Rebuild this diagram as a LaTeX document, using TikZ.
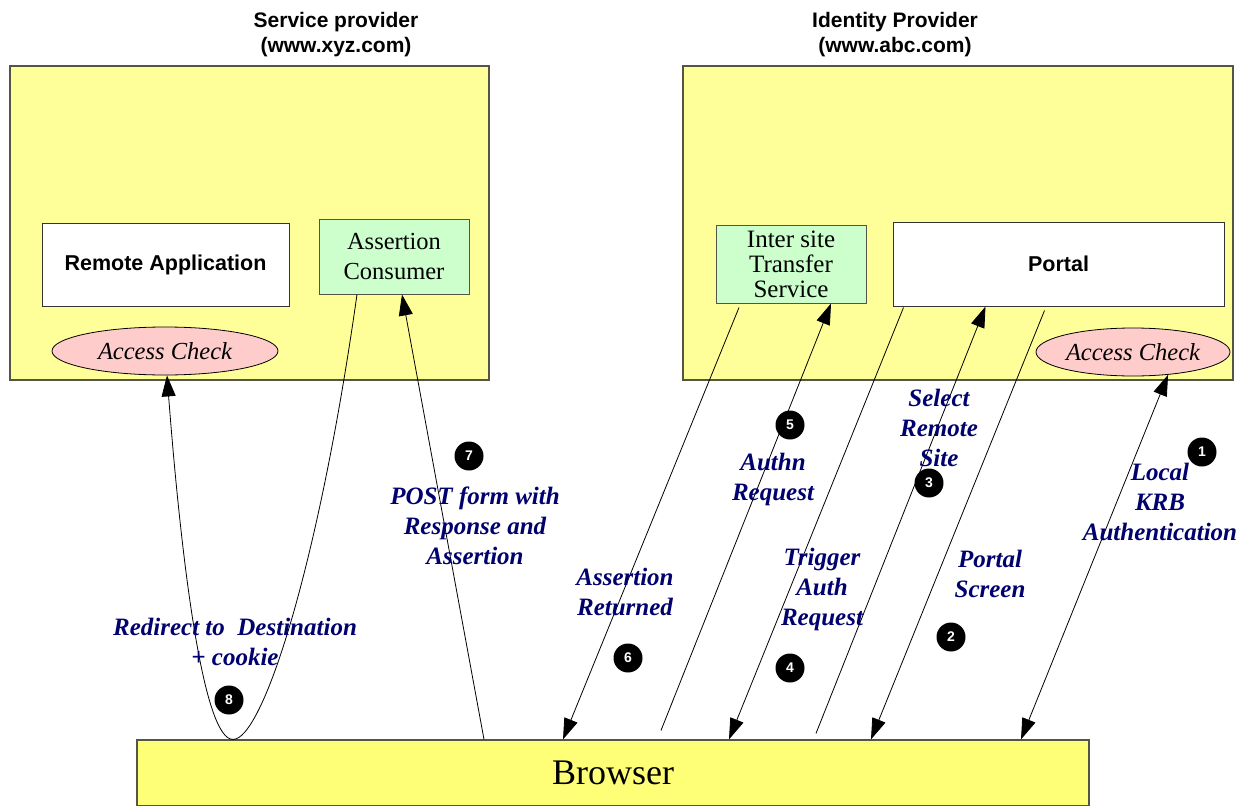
\documentclass[tikz,border=0pt]{standalone}
\usepackage{fontspec}
\setmainfont{Liberation Serif}
\setsansfont{Liberation Sans}
\usetikzlibrary{shapes.geometric,arrows.meta,calc}
\definecolor{boxyellow}{RGB}{255,255,153}
\definecolor{browseryellow}{RGB}{255,255,119}
\definecolor{boxgreen}{RGB}{204,255,204}
\definecolor{ellpink}{RGB}{255,204,204}
\definecolor{labelblue}{RGB}{0,0,110}
\definecolor{edgegray}{RGB}{85,85,70}
\begin{document}
\begin{tikzpicture}[x=1pt,y=-1pt,
  sitebox/.style={draw=edgegray,fill=boxyellow,line width=1.2,inner sep=0},
  whitebox/.style={draw=black!80,fill=white,line width=1,inner sep=0,
     font=\sffamily\bfseries\fontsize{21.5}{25}\selectfont},
  greenbox/.style={draw=edgegray,fill=boxgreen,line width=1,inner sep=0,align=center},
  checkell/.style={ellipse,draw=black,fill=ellpink,line width=0.8,inner sep=0,
     font=\itshape\fontsize{24.5}{28}\selectfont},
  title/.style={font=\sffamily\bfseries\fontsize{21}{25}\selectfont,align=center,inner sep=0},
  lbl/.style={font=\bfseries\itshape\fontsize{25}{30}\selectfont,text=labelblue,align=center,inner sep=0},
  num/.style={circle,fill=black,minimum size=29,inner sep=0,text=white,
     font=\sffamily\bfseries\fontsize{14}{14}\selectfont},
  arr/.style={line width=0.8,-{Triangle[length=21,width=14]}},
  darr/.style={line width=0.8,{Triangle[length=21,width=14]}-{Triangle[length=21,width=14]}}]
\useasboundingbox (0,0) rectangle (1238,805);
\fill[white] (0,0) rectangle (1238,805);

% titles
\node[title] (sptitle) at (336,34.5) {Service provider\\(www.xyz.com)};
\node[title] (idptitle) at (895,34.5) {Identity Provider\\(www.abc.com)};

% provider boxes
\node[sitebox,minimum width=479,minimum height=314] (sp) at (249.5,223) {};
\node[sitebox,minimum width=550,minimum height=314] (idp) at (958,223) {};

% inner boxes
\node[whitebox,minimum width=247,minimum height=83] (remote) at (165.5,264.5) {Remote Application};
\node[greenbox,minimum width=150,minimum height=75,font=\fontsize{24.5}{30}\selectfont] (ac) at (394,256.5) {Assertion\\Consumer};
\node[checkell,minimum width=226,minimum height=48] (accsp) at (165,351) {Access Check};

\node[greenbox,minimum width=150,minimum height=78,font=\fontsize{25}{25}\selectfont] (ists) at (791,264) {Inter site\\Transfer\\Service};
\node[whitebox,minimum width=331,minimum height=84] (portal) at (1058.5,264) {Portal};
\node[checkell,minimum width=194,minimum height=48] (accidp) at (1133,352) {Access Check};

% browser
\node[draw=edgegray,fill=browseryellow,line width=1.2,inner sep=0,
      minimum width=952,minimum height=66,font=\fontsize{36}{36}\selectfont] (browser) at (613,773) {Browser};

% connectors
\draw[darr] (accidp.-33) -- ($(browser.north)+(408,0)$);
\draw[arr] ($(portal.south)+(-14,4)$) -- ($(browser.north)+(258,0)$);
\draw[arr] ($(browser.north)+(203,-6)$) -- ($(portal.south)+(-73,0)$);
\draw[arr] ($(portal.south)+(-155,1)$) -- ($(browser.north)+(116,0)$);
\draw[arr] ($(browser.north)+(48,-9)$) -- ($(ists.south)+(40,0)$);
\draw[arr] ($(ists.south)+(-52,4)$) -- ($(browser.north)+(-50,0)$);
\draw[arr] ($(browser.north)+(-129,0)$) -- ($(ac.south)+(8,0)$);
\coordinate (bottom8) at ($(browser.north)+(-380,0)$);
\draw[arr] ($(ac.south)+(-37,0)$) .. controls (318,570) and (262,740) .. (bottom8)
   .. controls (204,740) and (182,570) .. ($(accsp.south)+(2,0)$);

% labels
\node[lbl] (l1) at (1160,502) {Local\\KRB\\Authentication};
\node[lbl] (l2) at (990,574) {Portal\\Screen};
\node[lbl] (l3) at (939,428) {Select\\Remote\\Site};
\node[lbl] (l4) at (822,589) {Trigger\\Auth\\Request};
\node[lbl] (l5) at (773,479) {Authn\\Request};
\node[lbl] (l6) at (625,592) {Assertion\\Returned};
\node[lbl] (l7) at (475,526) {POST form with\\Response and\\Assertion};
\node[lbl] (l8) at (235,642) {Redirect to\ \ Destination\\+ cookie};

% numbers
\node[num] (n1) at (1202,452) {1};
\node[num] (n2) at (951,637) {2};
\node[num] (n3) at (929,483) {3};
\node[num] (n4) at (790,668) {4};
\node[num] (n5) at (790,425) {5};
\node[num] (n6) at (628,658) {6};
\node[num] (n7) at (469,456) {7};
\node[num] (n8) at (229,700) {8};
\end{tikzpicture}
\end{document}
